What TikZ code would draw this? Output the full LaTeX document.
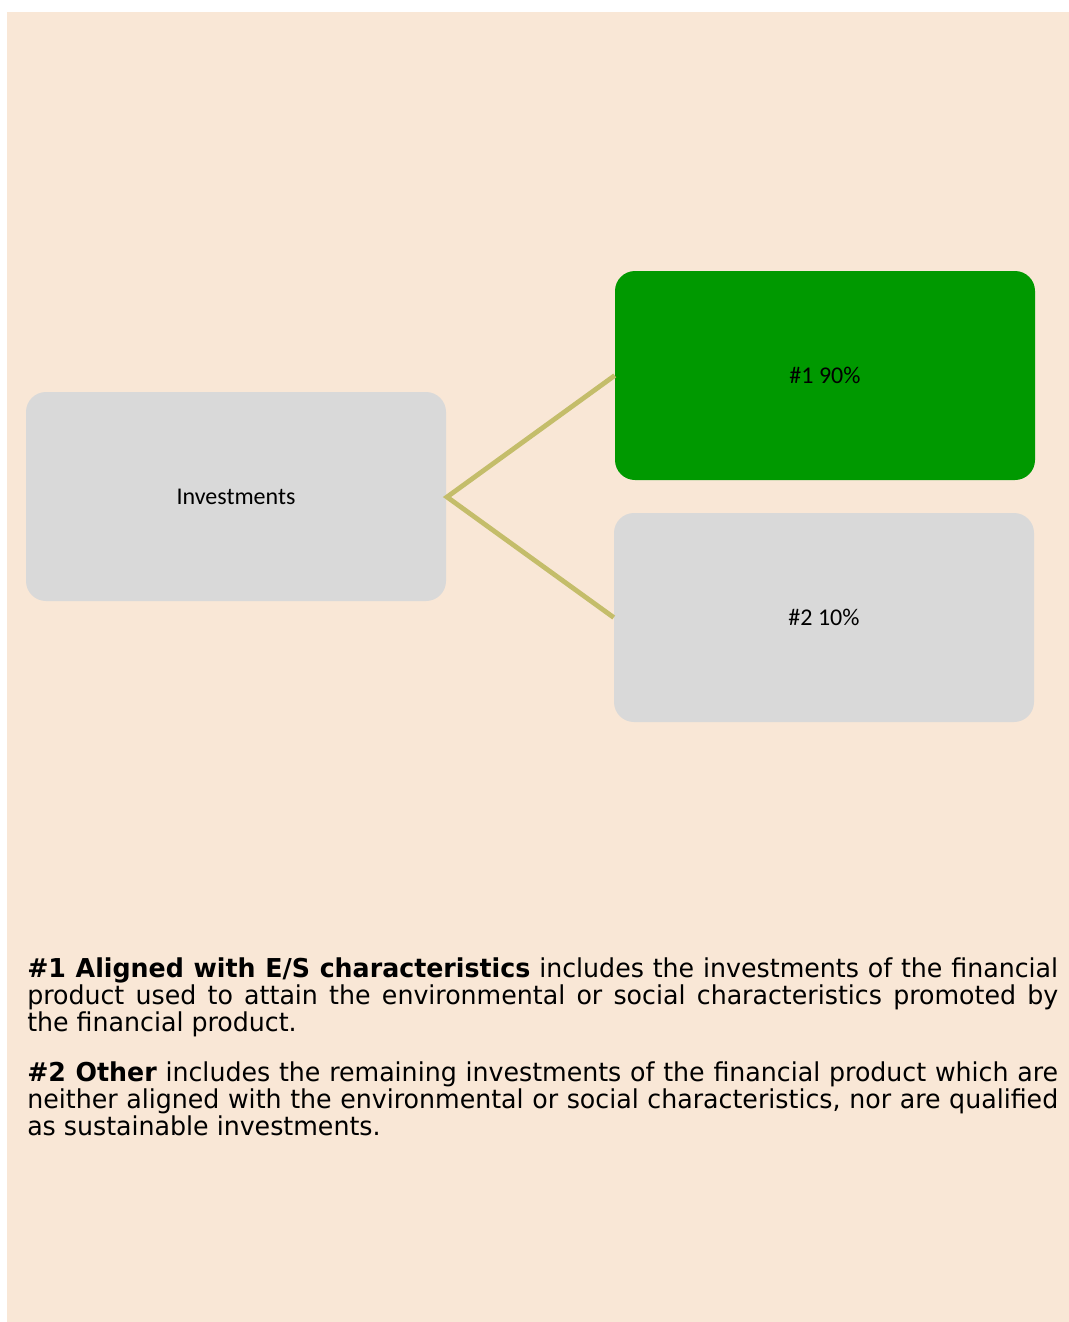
\documentclass[tikz,border=0pt]{standalone}
\usepackage{fontspec}
\setmainfont{DejaVu Sans Condensed}[FakeStretch=1.08]
\newfontfamily\boxfont{Carlito}
\definecolor{bgbeige}{RGB}{249,231,214}
\definecolor{boxgray}{RGB}{217,217,217}
\definecolor{boxgreen}{RGB}{0,153,0}
\definecolor{linkolive}{RGB}{196,189,106}
\begin{document}
\begin{tikzpicture}[x=0.75pt,y=-0.75pt,
  box/.style={rounded corners=15pt,inner sep=0pt,font=\boxfont\fontsize{18}{22}\selectfont},
  link/.style={draw=linkolive,line width=3.6pt},
  txt/.style={anchor=base west,inner sep=0pt,font=\fontsize{19.5}{20}\selectfont}]
\useasboundingbox (0,0) rectangle (1069,1322);
\fill[bgbeige] (7,12) rectangle (1069,1322);
\node[box,fill=boxgray,minimum width=315pt,minimum height=156.75pt] (inv) at (236,496.5) {Investments};
\node[box,fill=boxgreen,minimum width=315pt,minimum height=156.75pt] (one) at (825,375.5) {\#1 90\%};
\node[box,fill=boxgray,minimum width=315pt,minimum height=156.75pt] (two) at (824,617.5) {\#2 10\%};
\coordinate (hub) at (447,497);
\draw[link] (one.west) -- (hub) -- (two.west);
\node[txt] (l1) at (27,977) {\makebox[773.25pt][s]{\textbf{\#1 Aligned with E/S characteristics} includes the investments of the financial}};
\node[txt] (l2) at (27,1004) {\makebox[773.25pt][s]{product used to attain the environmental or social characteristics promoted by}};
\node[txt] (l3) at (27,1031) {the financial product.};
\node[txt] (l4) at (27,1081) {\makebox[773.25pt][s]{\textbf{\#2 Other} includes the remaining investments of the financial product which are}};
\node[txt] (l5) at (27,1108) {\makebox[773.25pt][s]{neither aligned with the environmental or social characteristics, nor are qualified}};
\node[txt] (l6) at (27,1135) {as sustainable investments.};
\end{tikzpicture}
\end{document}
